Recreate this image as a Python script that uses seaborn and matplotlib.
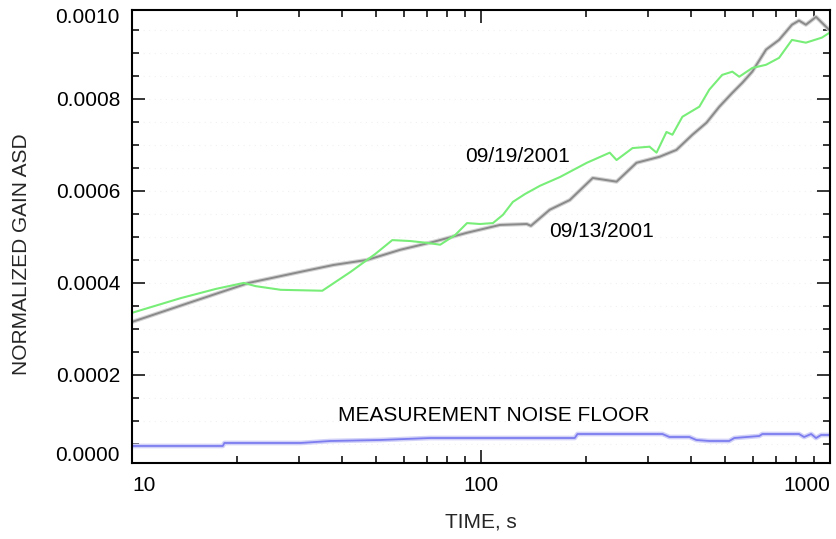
import matplotlib
matplotlib.use("Agg")
import matplotlib.pyplot as plt
import seaborn as sns
import pandas as pd
from matplotlib.ticker import FixedLocator, FixedFormatter, MultipleLocator, LogLocator, NullFormatter

# Gain ASD, run of 09/13/2001
t_0913 = [10.0, 15.7, 21.6, 30.4, 37.8, 47.2, 58.7, 72.9, 91.2, 113.3, 135.3, 139.0,
          157.4, 179.6, 209.0, 244.6, 279.0, 324.6, 363.0, 403.5, 442.6, 482.0, 525.0,
          561.0, 598.6, 656.0, 714.5, 778.0, 815.0, 853.0, 912.0, 961.0, 994.0]
asd_0913 = [3.152e-4, 3.65e-4, 4.00e-4, 4.24e-4, 4.39e-4, 4.50e-4, 4.72e-4, 4.89e-4,
            5.09e-4, 5.26e-4, 5.28e-4, 5.24e-4, 5.59e-4, 5.80e-4, 6.28e-4, 6.20e-4,
            6.61e-4, 6.74e-4, 6.89e-4, 7.22e-4, 7.48e-4, 7.83e-4, 8.13e-4, 8.35e-4,
            8.59e-4, 9.07e-4, 9.28e-4, 9.61e-4, 9.70e-4, 9.61e-4, 9.78e-4, 9.61e-4, 9.50e-4]

# Gain ASD, run of 09/19/2001
t_0919 = [10.0, 13.8, 17.4, 20.9, 22.6, 26.7, 35.1, 42.3, 49.8, 55.7, 62.7, 70.1, 76.4,
          84.3, 91.2, 99.3, 108.2, 115.6, 123.4, 133.6, 147.5, 168.3, 201.0, 233.8, 244.6,
          271.8, 304.0, 318.4, 340.0, 353.6, 377.6, 422.4, 451.0, 491.0, 525.0, 549.5,
          598.6, 656.0, 714.5, 778.0, 853.0, 948.0, 994.0]
asd_0919 = [3.35e-4, 3.67e-4, 3.87e-4, 4.00e-4, 3.93e-4, 3.85e-4, 3.83e-4, 4.24e-4,
            4.63e-4, 4.93e-4, 4.91e-4, 4.87e-4, 4.83e-4, 5.04e-4, 5.30e-4, 5.28e-4,
            5.30e-4, 5.48e-4, 5.76e-4, 5.93e-4, 6.11e-4, 6.30e-4, 6.61e-4, 6.83e-4,
            6.67e-4, 6.93e-4, 6.96e-4, 6.83e-4, 7.28e-4, 7.22e-4, 7.61e-4, 7.83e-4,
            8.20e-4, 8.52e-4, 8.59e-4, 8.48e-4, 8.67e-4, 8.74e-4, 8.89e-4, 9.28e-4,
            9.22e-4, 9.33e-4, 9.43e-4]

# Measurement noise floor
t_noise = [10.0, 18.2, 18.4, 30.4, 37.0, 51.5, 71.5, 113.3, 185.6, 189.0, 331.0, 346.7,
           395.5, 414.0, 451.0, 514.0, 532.0, 627.0, 640.0, 815.0, 843.0, 883.0, 912.0,
           943.0, 994.0]
asd_noise = [4.57e-5, 4.57e-5, 5.22e-5, 5.22e-5, 5.65e-5, 5.87e-5, 6.30e-5, 6.30e-5,
             6.30e-5, 7.17e-5, 7.17e-5, 6.52e-5, 6.52e-5, 5.87e-5, 5.65e-5, 5.65e-5,
             6.30e-5, 6.74e-5, 7.17e-5, 7.17e-5, 6.52e-5, 7.17e-5, 6.30e-5, 6.96e-5, 6.96e-5]

x_ticks = [10, 100, 1000]
x_ticklabels = ["10", "100", "1000"]
y_ticks = [0.0002, 0.0004, 0.0006, 0.0008]
y_ticklabels = ["0.0002", "0.0004", "0.0006", "0.0008"]

sns.set_theme(style="ticks")
plt.rcParams['font.family'] = ['Liberation Sans', 'DejaVu Sans']
plt.rcParams['text.color'] = 'black'
plt.rcParams['xtick.color'] = 'black'
plt.rcParams['ytick.color'] = 'black'

W, H = 836, 539
fig = plt.figure(figsize=(W / 100, H / 100), dpi=100)
ax = fig.add_axes([132 / W, 1 - 463 / H, 698 / W, 453 / H])

df13 = pd.DataFrame({"t": t_0913, "asd": asd_0913})
df19 = pd.DataFrame({"t": t_0919, "asd": asd_0919})
dfn = pd.DataFrame({"t": t_noise, "asd": asd_noise})

# noise floor: soft band with a blue core
sns.lineplot(data=dfn, x="t", y="asd", ax=ax, color="#d2d2f8", lw=3.4,
             estimator=None, sort=False)
sns.lineplot(data=dfn, x="t", y="asd", ax=ax, color="#7d7df0", lw=1.3,
             estimator=None, sort=False)
# 09/13 run
sns.lineplot(data=df13, x="t", y="asd", ax=ax, color="#d4d4d4", lw=3.0,
             estimator=None, sort=False)
sns.lineplot(data=df13, x="t", y="asd", ax=ax, color="#8a8a8a", lw=1.4,
             estimator=None, sort=False)
# 09/19 run
sns.lineplot(data=df19, x="t", y="asd", ax=ax, color="#78ee78", lw=1.5,
             estimator=None, sort=False)

ax.set_xscale("log")
ax.set_xlim(10, 1000)
ax.set_ylim(8.7e-6, 9.93e-4)

ax.xaxis.set_major_locator(FixedLocator(x_ticks))
ax.xaxis.set_major_formatter(FixedFormatter(x_ticklabels))
ax.xaxis.set_minor_locator(LogLocator(base=10, subs=[2, 3, 4, 5, 6, 7, 8, 9]))
ax.xaxis.set_minor_formatter(NullFormatter())
ax.yaxis.set_major_locator(FixedLocator(y_ticks))
ax.yaxis.set_major_formatter(FixedFormatter(y_ticklabels))
ax.yaxis.set_minor_locator(MultipleLocator(0.00005))

ax.grid(which="both", axis="y", color="#f1f1f1", ls=(0, (1, 4)), lw=0.8)
ax.set_axisbelow(True)

ax.tick_params(which="both", direction="in", top=True, right=True, width=1.1,
               colors="black")
ax.tick_params(which="major", length=9.4, labelsize=15)
ax.tick_params(which="minor", length=5)
ax.tick_params(axis="x", which="major", pad=9.4)
ax.tick_params(axis="y", which="major", pad=8.6)

labels = ax.get_xticklabels()
labels[0].set_ha("left")
labels[-1].set_ha("right")

for s in ax.spines.values():
    s.set_linewidth(1.5)
    s.set_color("black")

# end labels of the value axis
ax.text(-12 / 698, 0.0155, "0.0000", transform=ax.transAxes, ha="right", va="center",
        fontsize=15)
ax.text(-12 / 698, 0.9845, "0.0010", transform=ax.transAxes, ha="right", va="center",
        fontsize=15)

ax.set_xlabel("TIME, s", fontsize=15)
ax.set_ylabel("NORMALIZED GAIN ASD", fontsize=15)
ax.xaxis.label.set_va("center")
ax.xaxis.set_label_coords(0.5, (463 - 522) / 453)
ax.yaxis.label.set_va("center")
ax.yaxis.set_label_coords((22 - 132) / 698, (463 - 254) / 453)

ax.text(127.6, 0.000674, "09/19/2001", ha="center", va="center", fontsize=15)
ax.text(222, 0.000511, "09/13/2001", ha="center", va="center", fontsize=15)
ax.text(108.6, 0.000111, "MEASUREMENT NOISE FLOOR", ha="center", va="center", fontsize=15)

fig.savefig("out.png", dpi=100)
